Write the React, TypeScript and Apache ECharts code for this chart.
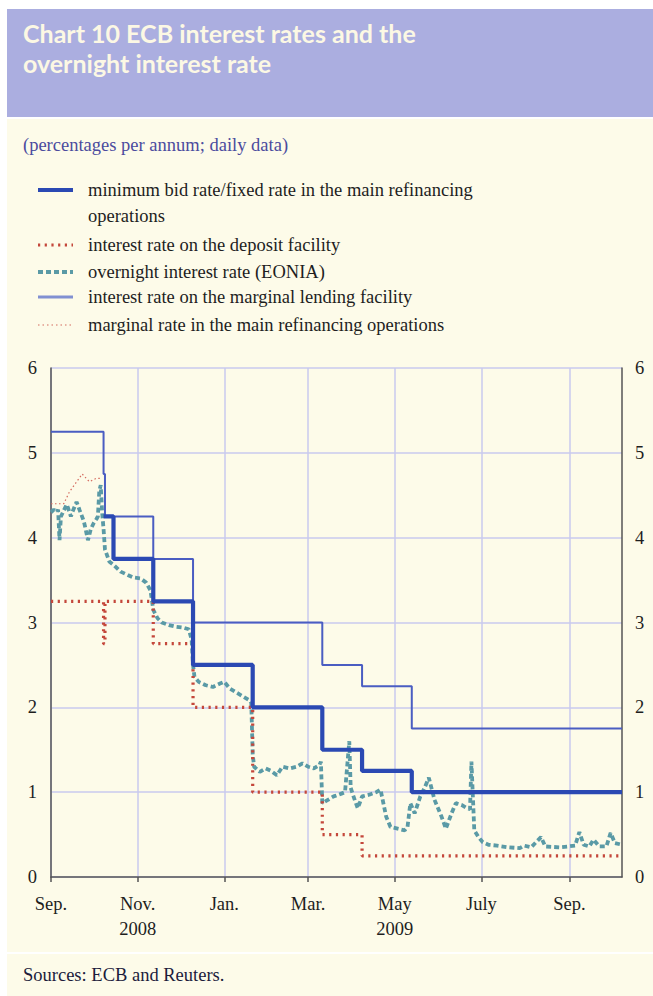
import React, { useEffect, useRef } from 'react';
import * as echarts from 'echarts';

const START_DATE = '2008-09-01';
const END_DATE = '2009-10-08';

const xTickDates = ['2008-09-01', '2008-11-01', '2009-01-01', '2009-03-01', '2009-05-01', '2009-07-01', '2009-09-01'];
const xTickLabels = ['Sep.', 'Nov.\n2008', 'Jan.', 'Mar.', 'May\n2009', 'July', 'Sep.'];
const yTicks = [0, 1, 2, 3, 4, 5, 6];

const titleLines = ['Chart 10 ECB interest rates and the', 'overnight interest rate'];
const subtitle = '(percentages per annum; daily data)';
const sourceText = 'Sources: ECB and Reuters.';

const seriesNames = [
  'minimum bid rate/fixed rate in the main refinancing operations',
  'interest rate on the deposit facility',
  'overnight interest rate (EONIA)',
  'interest rate on the marginal lending facility',
  'marginal rate in the main refinancing operations',
];
const legendLines = [
  ['minimum bid rate/fixed rate in the main refinancing', 'operations'],
  ['interest rate on the deposit facility'],
  ['overnight interest rate (EONIA)'],
  ['interest rate on the marginal lending facility'],
  ['marginal rate in the main refinancing operations'],
];

// minimum bid rate / fixed rate (step changes)
const mroDates = ['2008-10-08', '2008-10-15', '2008-11-12', '2008-12-10', '2009-01-21', '2009-03-11', '2009-04-08', '2009-05-13', END_DATE];
const mroValues = [4.25, 3.75, 3.25, 2.5, 2.0, 1.5, 1.25, 1.0, 1.0];

// deposit facility
const depDates = ['2008-09-01', '2008-10-08', '2008-10-09', '2008-11-12', '2008-12-10', '2009-01-21', '2009-03-11', '2009-04-08', END_DATE];
const depValues = [3.25, 2.75, 3.25, 2.75, 2.0, 1.0, 0.5, 0.25, 0.25];

// marginal lending facility
const mlfDates = ['2008-09-01', '2008-10-08', '2008-10-09', '2008-11-12', '2008-12-10', '2009-03-11', '2009-04-08', '2009-05-13', END_DATE];
const mlfValues = [5.25, 4.75, 4.25, 3.75, 3.0, 2.5, 2.25, 1.75, 1.75];

// marginal rate in the MROs
const margDates = ['2008-09-01', '2008-09-10', '2008-09-14', '2008-09-23', '2008-09-28', '2008-10-03', '2008-10-07'];
const margValues = [4.4, 4.4, 4.54, 4.75, 4.66, 4.7, 4.7];

// EONIA
const eoniaDates = [
  '2008-09-01', '2008-09-03', '2008-09-05', '2008-09-06', '2008-09-07', '2008-09-08', '2008-09-12', '2008-09-13',
  '2008-09-15', '2008-09-16', '2008-09-19', '2008-09-20', '2008-09-21', '2008-09-24', '2008-09-25', '2008-09-27',
  '2008-09-29', '2008-10-01', '2008-10-03', '2008-10-04', '2008-10-05', '2008-10-06', '2008-10-07', '2008-10-08',
  '2008-10-09', '2008-10-12', '2008-10-15', '2008-10-20', '2008-10-25', '2008-10-29', '2008-11-03', '2008-11-07',
  '2008-11-10', '2008-11-12', '2008-11-15', '2008-11-18', '2008-11-23', '2008-11-28', '2008-12-03', '2008-12-07',
  '2008-12-09', '2008-12-10', '2008-12-11', '2008-12-14', '2008-12-19', '2008-12-24', '2008-12-29', '2009-01-01',
  '2009-01-05', '2009-01-09', '2009-01-14', '2009-01-19', '2009-01-20', '2009-01-21', '2009-01-22', '2009-01-26',
  '2009-01-30', '2009-02-03', '2009-02-07', '2009-02-11', '2009-02-16', '2009-02-21', '2009-02-25', '2009-03-01',
  '2009-03-05', '2009-03-09', '2009-03-10', '2009-03-11', '2009-03-14', '2009-03-19', '2009-03-24', '2009-03-27',
  '2009-03-30', '2009-03-31', '2009-04-03', '2009-04-05', '2009-04-08', '2009-04-13', '2009-04-18', '2009-04-21',
  '2009-04-25', '2009-04-28', '2009-05-03', '2009-05-08', '2009-05-10', '2009-05-12', '2009-05-15', '2009-05-19',
  '2009-05-22', '2009-05-25', '2009-05-29', '2009-06-03', '2009-06-06', '2009-06-10', '2009-06-13', '2009-06-17',
  '2009-06-20', '2009-06-23', '2009-06-24', '2009-06-26', '2009-06-29', '2009-07-02', '2009-07-06', '2009-07-12',
  '2009-07-20', '2009-07-28', '2009-07-31', '2009-08-05', '2009-08-12', '2009-08-15', '2009-08-25', '2009-08-31',
  '2009-09-05', '2009-09-08', '2009-09-11', '2009-09-15', '2009-09-18', '2009-09-22', '2009-09-27', '2009-09-30',
  '2009-10-03', '2009-10-08',
];
const eoniaValues = [
  4.3, 4.33, 4.3, 4.33, 3.97, 4.25, 4.39, 4.35,
  4.25, 4.3, 4.42, 4.38, 4.33, 4.2, 4.13, 3.97,
  4.1, 4.17, 4.22, 4.25, 4.55, 4.62, 4.3, 4.1,
  3.86, 3.72, 3.68, 3.6, 3.56, 3.53, 3.52, 3.47,
  3.38, 3.15, 3.05, 3.0, 2.97, 2.95, 2.94, 2.92,
  2.8, 2.5, 2.36, 2.3, 2.26, 2.24, 2.28, 2.3,
  2.22, 2.18, 2.13, 2.08, 2.05, 1.45, 1.3, 1.24,
  1.28, 1.25, 1.2, 1.3, 1.28, 1.3, 1.34, 1.3,
  1.28, 1.32, 1.36, 0.87, 0.9, 0.95, 0.98, 1.0,
  1.6, 1.05, 0.9, 0.81, 0.95, 0.97, 1.0, 1.03,
  0.71, 0.59, 0.57, 0.55, 0.59, 0.87, 0.75, 0.95,
  1.05, 1.17, 0.91, 0.71, 0.57, 0.75, 0.87, 0.85,
  0.82, 0.8, 1.36, 0.55, 0.47, 0.41, 0.38, 0.37,
  0.35, 0.34, 0.37, 0.35, 0.47, 0.36, 0.35, 0.36,
  0.37, 0.53, 0.38, 0.36, 0.44, 0.36, 0.36, 0.52,
  0.4, 0.38,
];

const ts = (d: string) => Date.parse(d + 'T00:00:00Z');
const zip = (dates: string[], vals: number[]) => dates.map((d, i) => [ts(d), vals[i]]);

const SERIF = '"Liberation Serif", "DejaVu Serif", serif';
const FS = 18.5;

export default function App() {
  const ref = useRef<HTMLDivElement>(null);

  useEffect(() => {
    if (!ref.current) return;
    const chart = echarts.init(ref.current, undefined, { renderer: 'svg' });
    const xTickTs = xTickDates.map(ts);

    const legendY = [190, 245, 272, 297, 325];
    const legendLineStyles: any[] = [
      { stroke: '#2b49b3', lineWidth: 4 },
      { stroke: '#c4473b', lineWidth: 3.2, lineDash: [2.2, 4.5] },
      { stroke: '#5a9aa6', lineWidth: 3.8, lineDash: [5, 3] },
      { stroke: '#8190d2', lineWidth: 3 },
      { stroke: '#d46a5e', lineWidth: 1.2, lineDash: [1.5, 3] },
    ];

    const legendTexts: any[] = [];
    legendLines.forEach((lines, i) => {
      lines.forEach((t, j) => {
        legendTexts.push({
          type: 'text',
          style: { text: t, x: 88, y: legendY[i] + j * 26, verticalAlign: 'middle', fill: '#1e1e1e', font: `${FS}px ${SERIF}` },
        });
      });
    });

    const graphics: any[] = [
      { type: 'rect', z: -10, shape: { x: 7, y: 9, width: 646, height: 987 }, style: { fill: '#fdfbe9' } },
      { type: 'rect', z: -9, shape: { x: 7, y: 9, width: 646, height: 108 }, style: { fill: '#abaee0' } },
      { type: 'rect', z: -9, shape: { x: 7, y: 117, width: 646, height: 2 }, style: { fill: '#ffffff' } },
      { type: 'rect', z: -9, shape: { x: 7, y: 952, width: 646, height: 2 }, style: { fill: '#ffffff' } },
      ...titleLines.map((t, i) => ({
        type: 'text', z: 5,
        style: { text: t, x: 23, y: 33 + i * 30, verticalAlign: 'middle', fill: '#fcf8e4', font: 'bold 25px Lato, "Open Sans", sans-serif' },
      })),
      { type: 'text', style: { text: subtitle, x: 23, y: 145, verticalAlign: 'middle', fill: '#4b4b9e', font: `${FS}px ${SERIF}` } },
      ...legendY.map((y, i) => ({
        type: 'line', shape: { x1: 38, y1: y, x2: 73, y2: y }, style: legendLineStyles[i],
      })),
      ...legendTexts,
      { type: 'text', style: { text: sourceText, x: 23, y: 975, verticalAlign: 'middle', fill: '#1c1c3c', font: `${FS}px ${SERIF}` } },
    ];

    const option: any = {
      animation: false,
      backgroundColor: '#ffffff',
      grid: { left: 51, right: 31, top: 368, bottom: 119, containLabel: false },
      xAxis: {
        type: 'value',
        min: ts(START_DATE),
        max: ts(END_DATE),
        axisLine: { show: true, lineStyle: { color: '#555555', width: 1.5 } },
        axisTick: { show: true, customValues: xTickTs, length: 5, lineStyle: { color: '#555555', width: 1.5 } },
        axisLabel: {
          customValues: xTickTs,
          formatter: (v: number) => {
            const i = xTickTs.indexOf(v);
            return i >= 0 ? xTickLabels[i] : '';
          },
          fontFamily: SERIF, fontSize: FS, color: '#1e1e1e', lineHeight: 25, margin: 14,
        },
        splitLine: { show: true, lineStyle: { color: '#c8caee', width: 1.5 } },
      },
      yAxis: [
        {
          type: 'value', min: 0, max: 6, interval: 1, position: 'left',
          axisLine: { show: true, lineStyle: { color: '#555555', width: 1.5 } },
          axisTick: { show: false },
          axisLabel: { fontFamily: SERIF, fontSize: FS, color: '#1e1e1e', margin: 14, formatter: (v: number) => (yTicks.includes(v) ? String(v) : '') },
          splitLine: { show: true, lineStyle: { color: '#c8caee', width: 1.5 } },
        },
        {
          type: 'value', min: 0, max: 6, interval: 1, position: 'right',
          axisLine: { show: true, lineStyle: { color: '#555555', width: 1.5 } },
          axisTick: { show: false },
          axisLabel: { fontFamily: SERIF, fontSize: FS, color: '#1e1e1e', margin: 13, formatter: (v: number) => (yTicks.includes(v) ? String(v) : '') },
          splitLine: { show: false },
        },
      ],
      graphic: graphics,
      series: [
        {
          name: seriesNames[2], type: 'line', data: zip(eoniaDates, eoniaValues), symbol: 'none', z: 3,
          lineStyle: { color: '#5a9aa6', width: 3.8, type: [5, 3] },
        },
        {
          name: seriesNames[4], type: 'line', data: zip(margDates, margValues), symbol: 'none', z: 3,
          lineStyle: { color: '#d46a5e', width: 1.2, type: [1.5, 2.5] },
        },
        {
          name: seriesNames[1], type: 'line', step: 'end', data: zip(depDates, depValues), symbol: 'none', z: 4,
          lineStyle: { color: '#c4473b', width: 3.2, type: [2.2, 4.5] },
        },
        {
          name: seriesNames[3], type: 'line', step: 'end', data: zip(mlfDates, mlfValues), symbol: 'none', z: 4,
          lineStyle: { color: '#4a5dc2', width: 2 },
        },
        {
          name: seriesNames[0], type: 'line', step: 'end', data: zip(mroDates, mroValues), symbol: 'none', z: 5,
          lineStyle: { color: '#2b49b3', width: 4.2 },
        },
      ],
    };
    chart.setOption(option);
    return () => chart.dispose();
  }, []);

  return <div ref={ref} style={{ position: 'absolute', left: 0, top: 0, width: 653, height: 996 }} />;
}
